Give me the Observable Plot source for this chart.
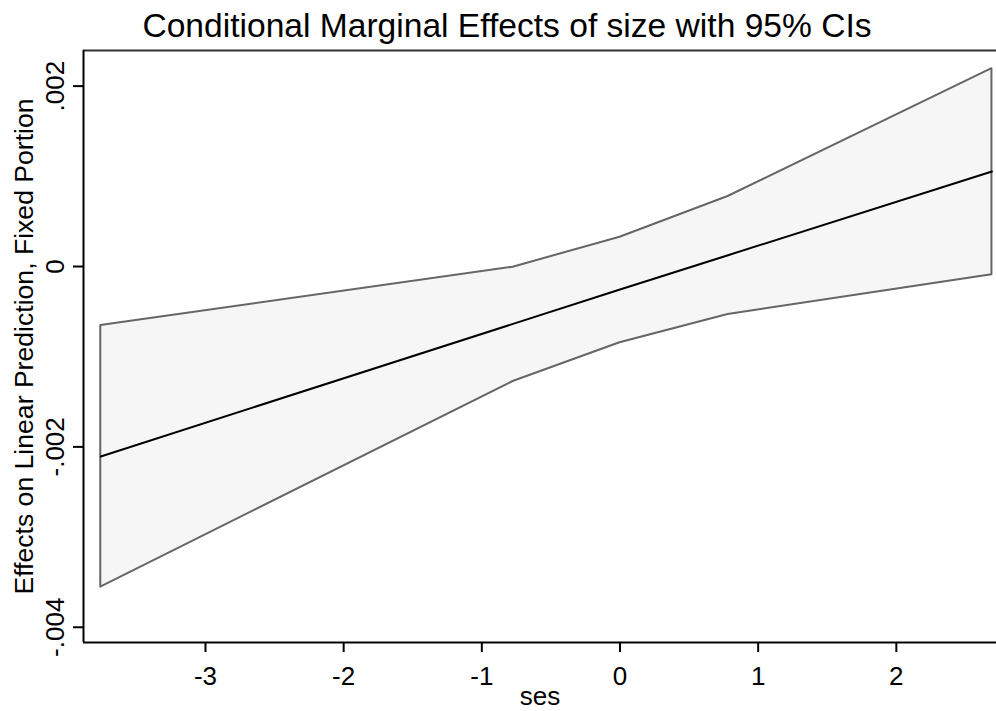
<!DOCTYPE html>
<html><head><meta charset="utf-8">
<script src="https://cdn.jsdelivr.net/npm/d3@7"></script>
<script src="https://cdn.jsdelivr.net/npm/@observablehq/plot@0.6"></script>
<style>
body{margin:0;background:#fff;font-family:"Liberation Sans",Arial,sans-serif;}
#wrap{position:relative;width:996px;height:711px;overflow:hidden;background:#fff;}
#title{position:absolute;top:9px;left:0;width:1014px;text-align:center;font-size:33.6px;color:#000;line-height:33px;white-space:nowrap;}
#chart{position:absolute;top:50px;left:0;}
</style></head>
<body>
<div id="wrap"><div id="title">Conditional Marginal Effects of size with 95% CIs</div><div id="chart"></div></div>
<script>
const ses = [-3.758, -0.774, 0.0, 0.782, 2.692];
const effect = [-0.002106, -0.000636, -0.000255, 0.000125, 0.001053];
const ciLow = [-0.003555, -0.001275, -0.000846, -0.000532, -0.000092];
const ciHigh = [-0.000654, -0.000008, 0.000325, 0.000776, 0.002193];
const xTicks = [-3, -2, -1, 0, 1, 2];
const yTicks = [-0.004, -0.002, 0, 0.002];
const yTickLabels = ["-.004", "-.002", "0", ".002"];

const data = ses.map((s, i) => ({ses: s, eff: effect[i], lo: ciLow[i], hi: ciHigh[i]}));
const xDomain = [-3.883, 2.725];
const yDomain = [-0.004169, 0.002395];

const chart = Plot.plot({
  width: 996, height: 661,
  marginTop: 0, marginLeft: 83, marginRight: 0, marginBottom: 69,
  x: {domain: xDomain},
  y: {domain: yDomain},
  style: {fontFamily: "'Liberation Sans', Arial, sans-serif", fontSize: "26px", color: "#000", background: "#fff", overflow: "visible"},
  marks: [
    Plot.areaY(data, {x: "ses", y1: "lo", y2: "hi", fill: "#f6f6f6", stroke: "#666", strokeWidth: 2}),
    Plot.lineY(data, {x: "ses", y: "eff", stroke: "#000", strokeWidth: 2}),
    Plot.ruleY([yDomain[1]], {stroke: "#333", strokeWidth: 2}),
    Plot.ruleY([yDomain[0]], {stroke: "#000", strokeWidth: 2}),
    Plot.ruleX([xDomain[0]], {stroke: "#000", strokeWidth: 2}),
    Plot.axisX({ticks: xTicks, tickFormat: d => String(d), tickSize: 10, tickPadding: 14, fontSize: 26, strokeWidth: 2,
      label: null}),
    Plot.axisX({ticks: [], label: "ses", labelAnchor: "center", labelArrow: "none", labelOffset: 62, fontSize: 26, dx: 5}),
    Plot.axisY({ticks: yTicks, tickFormat: d => yTickLabels[yTicks.indexOf(d)], tickSize: 10, tickPadding: 10,
      tickRotate: -90, fontSize: 26, strokeWidth: 2, label: null}),
    Plot.axisY({ticks: [], label: "Effects on Linear Prediction, Fixed Portion", labelAnchor: "center",
      labelArrow: "none", labelOffset: 69, fontSize: 26.6})
  ]
});
document.getElementById("chart").appendChild(chart);
</script>
</body></html>
